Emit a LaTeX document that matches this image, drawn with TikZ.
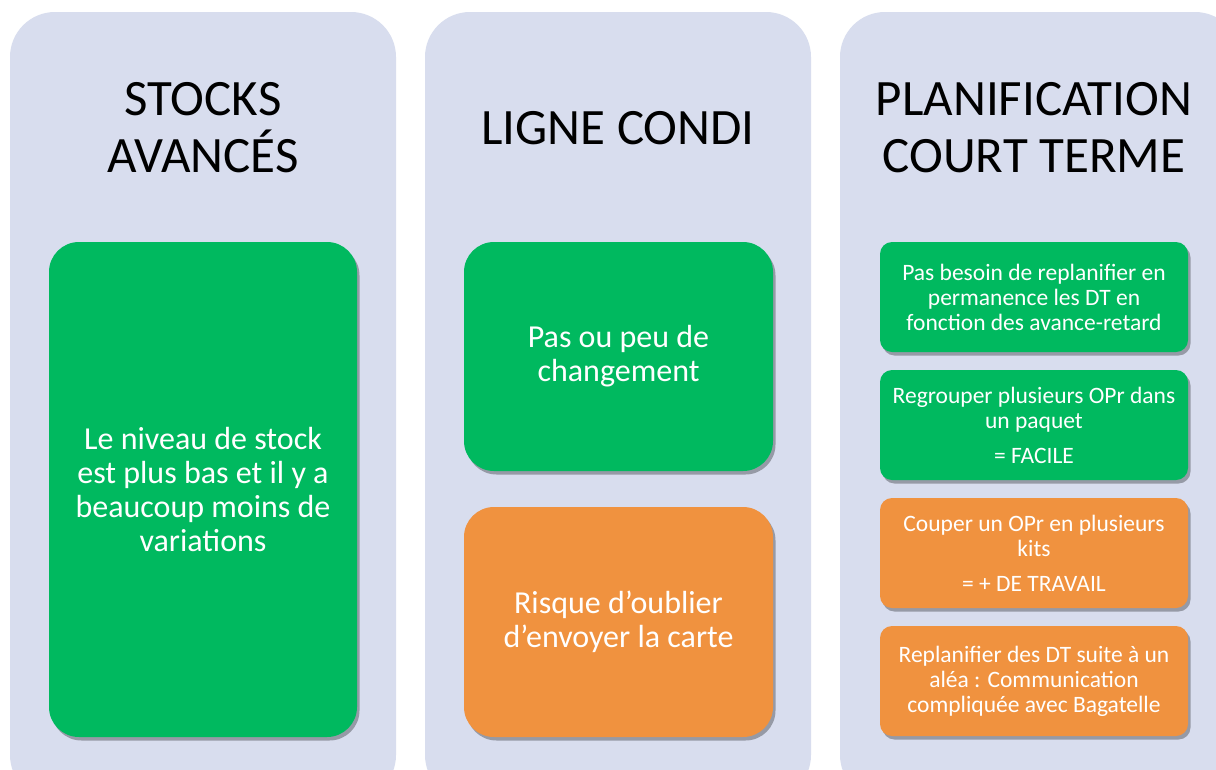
\documentclass[tikz,border=0pt]{standalone}
\usepackage{fontspec}
\setmainfont{Carlito}
\usetikzlibrary{shadows}
\definecolor{lav}{HTML}{D8DDEE}
\definecolor{grn}{HTML}{00B95F}
\definecolor{org}{HTML}{F0923F}
\tikzset{
  column/.style={fill=lav, draw=none, rounded corners=45pt},
  title/.style={align=center, font=\fontsize{51}{57}\selectfont, text=black},
  card/.style={draw=none, text=white, align=center, inner sep=0pt,
    drop shadow={shadow xshift=2.5pt, shadow yshift=-3.5pt, fill=black, opacity=0.3}},
  bigcard/.style={card, rounded corners=30pt, font=\fontsize{32}{34}\selectfont},
  smallcard/.style={card, rounded corners=12pt, minimum width=308pt, minimum height=110pt,
    font=\fontsize{23.5}{25}\selectfont},
}
\begin{document}
\begin{tikzpicture}[x=1pt,y=-1pt]
\useasboundingbox (0,0) rectangle (1216,769);
\clip (0,0) rectangle (1216,769);
\fill[white] (0,0) rectangle (1216,769);
% columns
\path[column] (10,12) rectangle (396,800);
\path[column] (425,12) rectangle (811,800);
\path[column] (840,12) rectangle (1240,800);
% titles
\node[title] (t1) at (203,128) {STOCKS\\AVANCÉS};
\node[title] (t2) at (618,128) {LIGNE CONDI};
\node[title] (t3) at (1034,128) {PLANIFICATION\\COURT TERME};
% column 1
\node[bigcard, fill=grn, minimum width=308pt, minimum height=495pt] (a1) at (203,489.5)
  {Le niveau de stock\\est plus bas et il y a\\beaucoup moins de\\variations};
% column 2
\node[bigcard, fill=grn, minimum width=309pt, minimum height=229pt] (b1) at (618.5,356.5)
  {Pas ou peu de\\changement};
\node[bigcard, fill=org, minimum width=309pt, minimum height=230pt] (b2) at (618.5,622)
  {Risque d’oublier\\d’envoyer la carte};
% column 3
\node[smallcard, fill=grn] (c1) at (1034,297)
  {Pas besoin de replanifier en\\permanence les DT en\\fonction des avance-retard};
\node[smallcard, fill=grn] (c2) at (1034,425)
  {Regrouper plusieurs OPr dans\\un paquet\\[10pt]= FACILE};
\node[smallcard, fill=org] (c3) at (1034,553)
  {Couper un OPr en plusieurs\\kits\\[10pt]= + DE TRAVAIL};
\node[smallcard, fill=org] (c4) at (1034,681)
  {Replanifier des DT suite à un\\aléa : Communication\\compliquée avec Bagatelle};
\end{tikzpicture}
\end{document}
